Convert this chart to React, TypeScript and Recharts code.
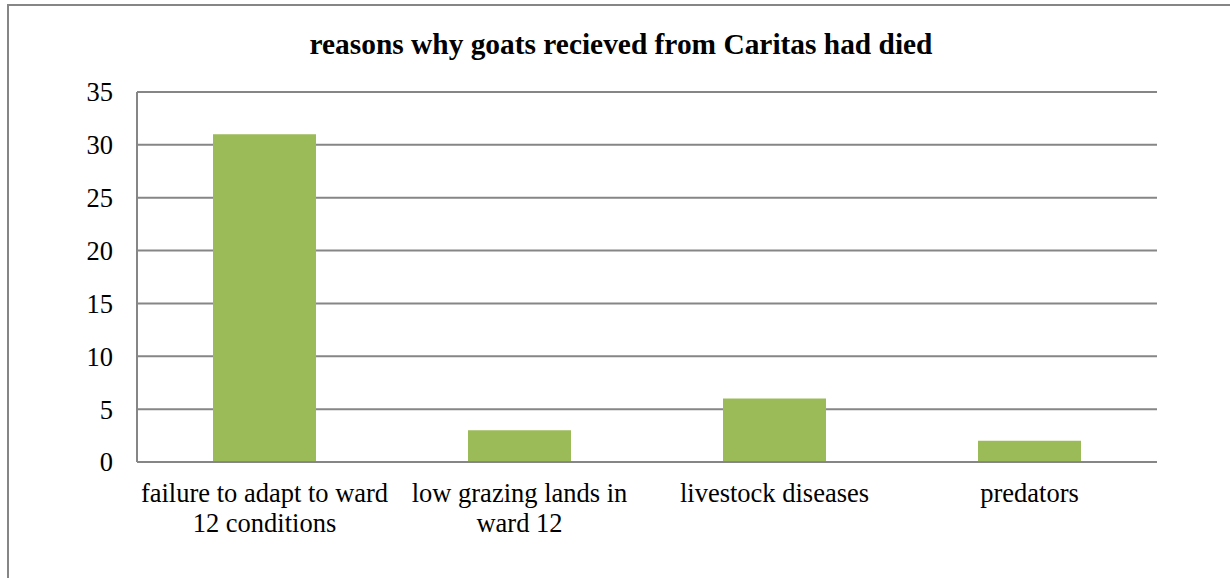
import { BarChart, Bar, XAxis, YAxis, CartesianGrid } from 'recharts';

// category labels (line breaks as in the original chart)
const categories = [
  'failure to adapt to ward\n12 conditions',
  'low grazing lands in\nward 12',
  'livestock diseases',
  'predators',
];
const deaths = [31, 3, 6, 2];
const yTicks = [0, 5, 10, 15, 20, 25, 30, 35];

const TITLE = 'reasons why goats recieved from Caritas had died';
const FONT = '"Liberation Serif", "Times New Roman", serif';
const GRID = '#868686';
const BAR = '#9BBB59';

const data = categories.map((name, i) => ({ name, value: deaths[i] }));

const CategoryTick = ({ x, y, payload }: any) => {
  const lines = String(payload.value).split('\n');
  return (
    <text x={x} y={y} textAnchor="middle" fill="#000" fontFamily={FONT} fontSize={26.5}>
      {lines.map((line, i) => (
        <tspan key={i} x={x} dy={i === 0 ? 40 : 30}>
          {line}
        </tspan>
      ))}
    </text>
  );
};

export default function App() {
  return (
    <div
      style={{
        position: 'absolute',
        left: 0,
        top: 0,
        width: 1230,
        height: 578,
        background: '#fff',
        overflow: 'hidden',
      }}
    >
      {/* chart frame, only the left and top edges fall inside the picture */}
      <div
        style={{
          position: 'absolute',
          left: 7,
          top: 4,
          width: 1300,
          height: 700,
          borderLeft: `2px solid ${GRID}`,
          borderTop: `2px solid ${GRID}`,
        }}
      />
      <div
        style={{
          position: 'absolute',
          left: 8,
          width: 1226,
          top: 26,
          textAlign: 'center',
          fontFamily: FONT,
          fontWeight: 'bold',
          fontSize: 29.4,
          lineHeight: '36px',
          color: '#000',
        }}
      >
        {TITLE}
      </div>
      <div style={{ position: 'absolute', left: 0, top: 0 }}>
        <BarChart
          width={1230}
          height={578}
          data={data}
          margin={{ top: 92, right: 73, bottom: 0, left: 0 }}
        >
          <CartesianGrid vertical={false} stroke={GRID} strokeWidth={2} />
          <XAxis
            dataKey="name"
            height={116}
            axisLine={{ stroke: GRID, strokeWidth: 2 }}
            tickLine={false}
            tickSize={0}
            tickMargin={0}
            interval={0}
            tick={<CategoryTick />}
          />
          <YAxis
            width={137}
            domain={[0, 35]}
            ticks={yTicks}
            axisLine={{ stroke: GRID, strokeWidth: 2 }}
            tickLine={false}
            tickSize={0}
            tickMargin={24}
            tick={{ fill: '#000', fontFamily: FONT, fontSize: 26.5 }}
          />
          <Bar dataKey="value" fill={BAR} barSize={103} isAnimationActive={false} />
        </BarChart>
      </div>
    </div>
  );
}
